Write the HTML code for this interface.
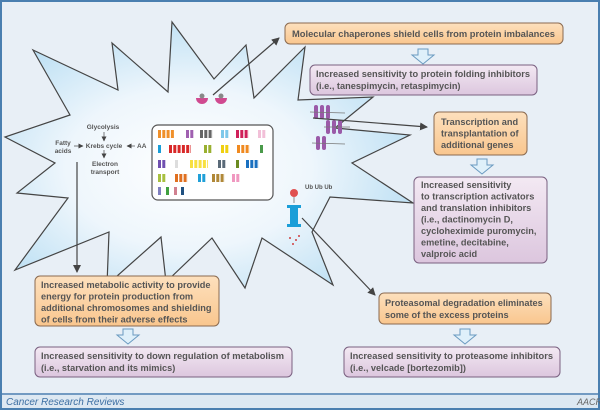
<!DOCTYPE html>
<html><head><meta charset="utf-8"><style>
body{margin:0;width:600px;height:410px;overflow:hidden;background:#fff;font-family:"Liberation Sans",sans-serif}
svg text{font-family:"Liberation Sans",sans-serif;font-weight:bold;fill:#555}
</style></head><body>
<svg width="600" height="410" viewBox="0 0 600 410" xmlns="http://www.w3.org/2000/svg">
<defs>
<radialGradient id="sg" cx="0.45" cy="0.55" r="0.6">
<stop offset="0" stop-color="#ffffff"/><stop offset="0.5" stop-color="#eef6fc"/><stop offset="1" stop-color="#b9def3"/>
</radialGradient>
<linearGradient id="og" x1="0" y1="0" x2="0" y2="1"><stop offset="0" stop-color="#fde0bd"/><stop offset="1" stop-color="#f9c68e"/></linearGradient>
<linearGradient id="pg" x1="0" y1="0" x2="0" y2="1"><stop offset="0" stop-color="#f3e9f3"/><stop offset="1" stop-color="#dcc6de"/></linearGradient>
<marker id="ah" markerWidth="8" markerHeight="8" refX="7" refY="4" orient="auto" markerUnits="userSpaceOnUse"><path d="M0,0 L8,4 L0,8 Z" fill="#444"/></marker>
<marker id="as" markerWidth="5" markerHeight="5" refX="4.5" refY="2.5" orient="auto" markerUnits="userSpaceOnUse"><path d="M0,0 L5,2.5 L0,5 Z" fill="#444"/></marker>
</defs>
<rect x="0" y="0" width="600" height="410" fill="#e8eff6"/>
<rect x="1" y="1" width="598" height="408" fill="none" stroke="#4a7fb0" stroke-width="2"/>
<line x1="1" y1="394" x2="599" y2="394" stroke="#4a7fb0" stroke-width="1.5"/>
<rect x="2" y="395" width="596" height="13" fill="#dde8f2"/>
<text x="6" y="405" style="font-weight:normal;font-style:italic;fill:#3d6fa3;font-size:10px">Cancer Research Reviews</text>
<text x="577" y="405" style="font-weight:normal;font-style:italic;fill:#666;font-size:9px">AACR</text>

<polygon points="33,50 118,90 112,43 168,92 172,22 214,79 246,45 254,98 305,47 298,100 373,97 335,128 410,135 352,163 413,203 330,197 312,232 333,285 262,238 245,288 212,238 166,282 161,237 107,285 109,232 15,270 68,198 17,193 55,163 5,137 70,115" fill="url(#sg)" stroke="#444" stroke-width="1.2" stroke-linejoin="miter"/>

<!-- metabolism -->
<g style="font-size:6.5px">
<text x="103" y="129" text-anchor="middle">Glycolysis</text>
<text x="104" y="148" text-anchor="middle">Krebs cycle</text>
<text x="105" y="166" text-anchor="middle">Electron</text>
<text x="105" y="174" text-anchor="middle">transport</text>
<text x="63" y="145" text-anchor="middle">Fatty</text>
<text x="63" y="153" text-anchor="middle">acids</text>
<text x="137" y="148">AA</text>
</g>
<g stroke="#444" stroke-width="0.7" fill="none">
<line x1="104" y1="132" x2="104" y2="141" marker-end="url(#as)"/>
<line x1="104" y1="150" x2="104" y2="158" marker-end="url(#as)"/>
<line x1="74" y1="146" x2="83" y2="146" marker-end="url(#as)"/>
<line x1="135" y1="146" x2="127" y2="146" marker-end="url(#as)"/>
</g>

<!-- chromosome box -->
<rect x="152" y="125" width="121" height="75" rx="6" fill="#fff" stroke="#555" stroke-width="1.2"/>
<g stroke-width="8" stroke-dasharray="3,1.3">
<line x1="158" y1="134" x2="175" y2="134" stroke="#f0902a"/>
<line x1="186" y1="134" x2="194" y2="134" stroke="#a060b0"/>
<line x1="200" y1="134" x2="213" y2="134" stroke="#666"/>
<line x1="221" y1="134" x2="229" y2="134" stroke="#7ec8ea"/>
<line x1="236" y1="134" x2="249" y2="134" stroke="#d0205a"/>
<line x1="258" y1="134" x2="266" y2="134" stroke="#f2c0d8"/>
<line x1="158" y1="149" x2="161" y2="149" stroke="#1a9ed8"/>
<line x1="169" y1="149" x2="191" y2="149" stroke="#d82828"/>
<line x1="204" y1="149" x2="212" y2="149" stroke="#9ab030"/>
<line x1="221" y1="149" x2="229" y2="149" stroke="#f0d010"/>
<line x1="237" y1="149" x2="250" y2="149" stroke="#f08a20"/>
<line x1="260" y1="149" x2="263" y2="149" stroke="#4a9a4a"/>
<line x1="158" y1="164" x2="166" y2="164" stroke="#7050b0"/>
<line x1="175" y1="164" x2="178" y2="164" stroke="#ddd"/>
<line x1="190" y1="164" x2="208" y2="164" stroke="#f8e040"/>
<line x1="218" y1="164" x2="226" y2="164" stroke="#5a6a78"/>
<line x1="236" y1="164" x2="239" y2="164" stroke="#6a8a20"/>
<line x1="246" y1="164" x2="259" y2="164" stroke="#1a70c0"/>
<line x1="158" y1="178" x2="166" y2="178" stroke="#a8c040"/>
<line x1="175" y1="178" x2="188" y2="178" stroke="#e07020"/>
<line x1="198" y1="178" x2="206" y2="178" stroke="#20a0d8"/>
<line x1="212" y1="178" x2="225" y2="178" stroke="#b08838"/>
<line x1="232" y1="178" x2="240" y2="178" stroke="#f098c0"/>
<line x1="158" y1="191" x2="161" y2="191" stroke="#8080c0"/>
<line x1="166" y1="191" x2="169" y2="191" stroke="#40a040"/>
<line x1="174" y1="191" x2="177" y2="191" stroke="#d08090"/>
<line x1="181" y1="191" x2="184" y2="191" stroke="#205080"/>
</g>

<!-- chaperones -->
<path d="M196,98 a6,6 0 0 0 12,0 z" fill="#d04a90"/><circle cx="202" cy="96" r="2.5" fill="#888"/>
<path d="M215,98 a6,6 0 0 0 12,0 z" fill="#d04a90"/><circle cx="221" cy="96" r="2.5" fill="#888"/>

<!-- genes -->
<g fill="#9a5aa8">
<rect x="314" y="105" width="4" height="14" rx="2"/><rect x="320" y="105" width="4" height="14" rx="2"/><rect x="326" y="105" width="4" height="14" rx="2"/>
<rect x="326" y="120" width="4" height="14" rx="2"/><rect x="332" y="120" width="4" height="14" rx="2"/><rect x="338" y="120" width="4" height="14" rx="2"/>
<rect x="316" y="136" width="4" height="14" rx="2"/><rect x="322" y="136" width="4" height="14" rx="2"/>
</g>
<g stroke="#777" stroke-width="0.7"><line x1="310" y1="112" x2="345" y2="113"/><line x1="324" y1="127" x2="350" y2="127"/><line x1="312" y1="143" x2="345" y2="144"/></g>

<!-- proteasome -->
<circle cx="294" cy="193" r="4" fill="#e05050"/>
<text x="305" y="189" style="font-size:6px">Ub Ub Ub</text>
<line x1="294" y1="197" x2="294" y2="203" stroke="#444" stroke-width="0.6"/>
<rect x="290" y="205" width="8" height="22" fill="#1a9ed8"/><rect x="287" y="205" width="14" height="3" fill="#1a9ed8"/><rect x="287" y="224" width="14" height="3" fill="#1a9ed8"/>
<g fill="#d04040"><circle cx="290" cy="238" r="1"/><circle cx="296" cy="240" r="1"/><circle cx="293" cy="244" r="1"/><circle cx="299" cy="236" r="1"/></g>

<!-- arrows -->
<g stroke="#444" stroke-width="1.2" fill="none">
<line x1="213" y1="95" x2="279" y2="38" marker-end="url(#ah)"/>
<line x1="313" y1="118" x2="427" y2="127" marker-end="url(#ah)"/>
<line x1="77" y1="162" x2="77" y2="272" marker-end="url(#ah)"/>
<line x1="302" y1="218" x2="375" y2="295" marker-end="url(#ah)"/>
</g>

<!-- hollow arrows -->
<g fill="#dff0fa" stroke="#6a9ac0" stroke-width="1">
<path d="M418,49 h10 v6 h6 l-11,9 l-11,-9 h6 z"/>
<path d="M477,159 h10 v6 h6 l-11,9 l-11,-9 h6 z"/>
<path d="M123,329 h10 v6 h6 l-11,9 l-11,-9 h6 z"/>
<path d="M460,329 h10 v6 h6 l-11,9 l-11,-9 h6 z"/>
</g>

<!-- boxes -->
<g stroke="#8a6a50" stroke-width="1">
<rect x="285" y="23" width="278" height="21" rx="5" fill="url(#og)"/>
<rect x="310" y="65" width="227" height="30" rx="5" fill="url(#pg)" stroke="#7a6080"/>
<rect x="434" y="112" width="93" height="43" rx="5" fill="url(#og)"/>
<rect x="414" y="177" width="133" height="86" rx="5" fill="url(#pg)" stroke="#7a6080"/>
<rect x="35" y="276" width="184" height="50" rx="5" fill="url(#og)"/>
<rect x="35" y="347" width="257" height="30" rx="5" fill="url(#pg)" stroke="#7a6080"/>
<rect x="379" y="293" width="172" height="31" rx="5" fill="url(#og)"/>
<rect x="344" y="347" width="216" height="30" rx="5" fill="url(#pg)" stroke="#7a6080"/>
</g>
<g style="font-size:9.2px">
<text x="292" y="37" textLength="263" lengthAdjust="spacingAndGlyphs">Molecular chaperones shield cells from protein imbalances</text>
<text x="316" y="77" textLength="214" lengthAdjust="spacingAndGlyphs">Increased sensitivity to protein folding inhibitors</text>
<text x="316" y="89">(i.e., tanespimycin, retaspimycin)</text>
<text x="441" y="125">Transcription and</text>
<text x="441" y="136.5">transplantation of</text>
<text x="441" y="148">additional genes</text>
<text x="421" y="188">Increased sensitivity</text>
<text x="421" y="199.5">to transcription activators</text>
<text x="421" y="211">and translation inhibitors</text>
<text x="421" y="222.5">(i.e., dactinomycin D,</text>
<text x="421" y="234">cycloheximide puromycin,</text>
<text x="421" y="245.5">emetine, decitabine,</text>
<text x="421" y="257">valproic acid</text>
<text x="41" y="288">Increased metabolic activity to provide</text>
<text x="41" y="299.5">energy for protein production from</text>
<text x="41" y="311">additional chromosomes and shielding</text>
<text x="41" y="322.5">of cells from their adverse effects</text>
<text x="41" y="359" textLength="243" lengthAdjust="spacingAndGlyphs">Increased sensitivity to down regulation of metabolism</text>
<text x="41" y="371">(i.e., starvation and its mimics)</text>
<text x="385" y="306">Proteasomal degradation eliminates</text>
<text x="385" y="318">some of the excess proteins</text>
<text x="350" y="359" textLength="203" lengthAdjust="spacingAndGlyphs">Increased sensitivity to proteasome inhibitors</text>
<text x="350" y="371">(i.e., velcade [bortezomib])</text>
</g>
</svg>
</body></html>
